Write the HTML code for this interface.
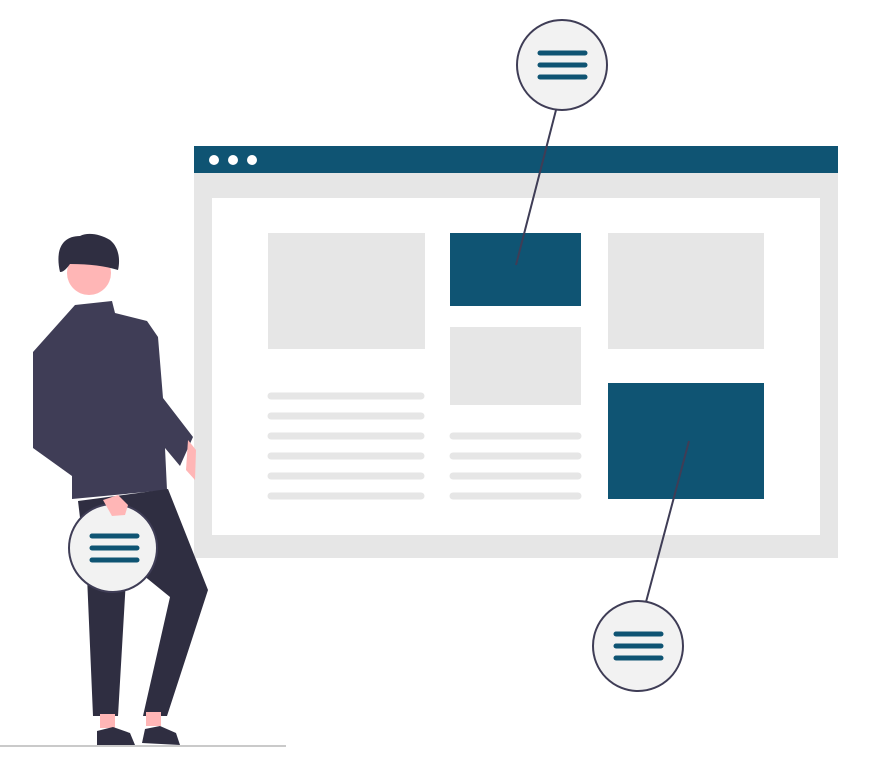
<!DOCTYPE html>
<html><head><meta charset="utf-8"><style>html,body{margin:0;padding:0;background:#fff}svg{display:block}</style></head>
<body>
<svg width="885" height="780" viewBox="0 0 885 780" xmlns="http://www.w3.org/2000/svg">
<!-- browser -->
<rect x="194" y="172" width="644" height="386" fill="#e6e6e6"/>
<rect x="194" y="146" width="644" height="27" fill="#0f5473"/>
<circle cx="214" cy="160" r="5" fill="#fff"/><circle cx="233" cy="160" r="5" fill="#fff"/><circle cx="252" cy="160" r="5" fill="#fff"/>
<rect x="212" y="198" width="608" height="337" fill="#fff"/>
<rect x="268" y="233" width="157" height="116" fill="#e6e6e6"/>
<rect x="450" y="233" width="131" height="73" fill="#0f5473"/>
<rect x="450" y="327" width="131" height="78" fill="#e6e6e6"/>
<rect x="608" y="233" width="156" height="116" fill="#e6e6e6"/>
<rect x="608" y="383" width="156" height="116" fill="#0f5473"/>
<g stroke="#e6e6e6" stroke-width="7" stroke-linecap="round">
<line x1="271" y1="396" x2="421" y2="396"/><line x1="271" y1="416" x2="421" y2="416"/><line x1="271" y1="436" x2="421" y2="436"/><line x1="271" y1="456" x2="421" y2="456"/><line x1="271" y1="476" x2="421" y2="476"/><line x1="271" y1="496" x2="421" y2="496"/>
<line x1="453" y1="436" x2="578" y2="436"/><line x1="453" y1="456" x2="578" y2="456"/><line x1="453" y1="476" x2="578" y2="476"/><line x1="453" y1="496" x2="578" y2="496"/>
</g>
<!-- connectors -->
<line x1="556" y1="110" x2="516" y2="265" stroke="#3f3d56" stroke-width="2"/>
<line x1="689" y1="441" x2="646" y2="602" stroke="#3f3d56" stroke-width="2"/>
<!-- ground -->
<rect x="0" y="745" width="286" height="2" fill="#cacaca"/>
<!-- person -->
<path d="M75 305 L112 301 L115 313 L147 321 L158 337 L163 398 L193 437 L180 466 L165 448 L167 490 L72 499 L72 476 L33 448 L33 352 Z" fill="#3f3d56"/>
<path d="M188 440 L196 450 L195 480 L186 470 Z" fill="#ffb6b6"/>
<path d="M78 501 L168 489 L208 590 L167 716 L143 716 L170 597 L127 562 L118 716 L93 716 L87 576 Z" fill="#2f2e41"/>
<rect x="100" y="714" width="15" height="14" fill="#ffb6b6"/>
<rect x="146" y="712" width="15" height="14" fill="#ffb6b6"/>
<path d="M97 745 L97 731 L113 727 L130 733 L135 745 Z" fill="#2f2e41"/>
<path d="M142 743 L145 729 L160 726 L176 733 L180 745 Z" fill="#2f2e41"/>
<circle cx="89" cy="273" r="22" fill="#ffb6b6"/>
<path d="M60 272 C55 250 62 236 80 236 C88 232 100 234 110 240 C120 248 120 262 118 270 C105 266 90 264 70 264 C67 268 64 272 60 272 Z" fill="#2f2e41"/>
<!-- person circle -->
<circle cx="113" cy="548" r="44" fill="#f2f2f2" stroke="#3f3d56" stroke-width="2"/>
<path d="M103 500 L118 495 L128 505 L125 515 L112 516 Z" fill="#ffb6b6"/>
<g stroke="#0f5473" stroke-width="5" stroke-linecap="round">
<line x1="92" y1="536" x2="137" y2="536"/><line x1="92" y1="548" x2="137" y2="548"/><line x1="92" y1="560" x2="137" y2="560"/>
</g>
<!-- top circle -->
<circle cx="562" cy="65" r="45" fill="#f2f2f2" stroke="#3f3d56" stroke-width="2"/>
<g stroke="#0f5473" stroke-width="5" stroke-linecap="round">
<line x1="540" y1="53" x2="585" y2="53"/><line x1="540" y1="65" x2="585" y2="65"/><line x1="540" y1="77" x2="585" y2="77"/>
</g>
<!-- bottom circle -->
<circle cx="638" cy="646" r="45" fill="#f2f2f2" stroke="#3f3d56" stroke-width="2"/>
<g stroke="#0f5473" stroke-width="5" stroke-linecap="round">
<line x1="616" y1="634" x2="661" y2="634"/><line x1="616" y1="646" x2="661" y2="646"/><line x1="616" y1="658" x2="661" y2="658"/>
</g>
</svg>
</body></html>
